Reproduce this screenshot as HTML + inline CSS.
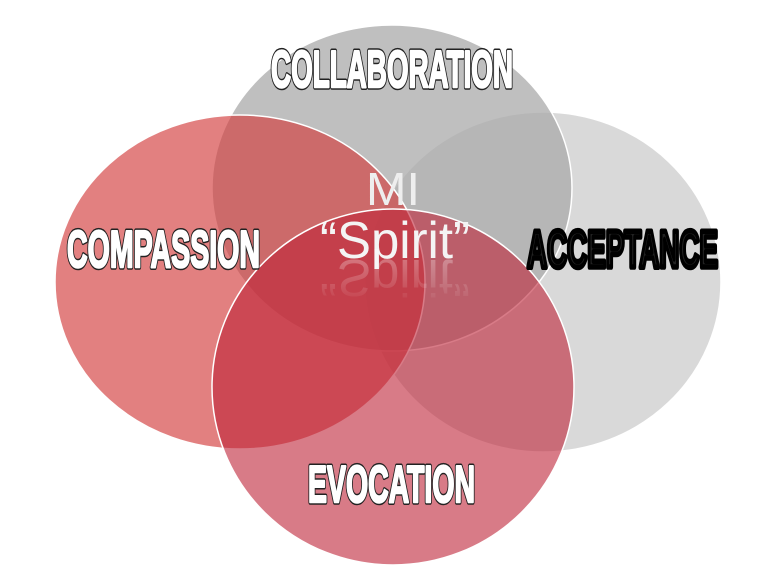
<!DOCTYPE html>
<html><head><meta charset="utf-8"><style>html,body{margin:0;padding:0;background:#fff;width:783px;height:585px;overflow:hidden}
.t{font-family:"Liberation Sans",Arial,sans-serif;font-weight:900;font-size:52px}</style></head>
<body>
<svg width="783" height="585" viewBox="0 0 783 585" xmlns="http://www.w3.org/2000/svg">
<defs>
<linearGradient id="fade" x1="0" y1="0" x2="0" y2="1">
<stop offset="0" stop-color="#fff" stop-opacity="0"/>
<stop offset="1" stop-color="#fff" stop-opacity="0.35"/>
</linearGradient>
</defs>
<ellipse cx="543" cy="282" rx="178" ry="170" fill="#d9d9d9" stroke="#fff" stroke-width="1.5"/>
<ellipse cx="392" cy="188" rx="180" ry="163" fill="rgba(170,170,170,0.75)" stroke="#fff" stroke-width="1.5"/>
<ellipse cx="240" cy="282" rx="185" ry="167" fill="rgba(210,60,60,0.65)" stroke="#fff" stroke-width="1.5"/>
<ellipse cx="393" cy="387" rx="181" ry="178" fill="rgba(190,35,55,0.6)" stroke="#fff" stroke-width="1.5"/>
<g class="t" stroke="#222" stroke-width="5.5" fill="#222" stroke-linejoin="round">
<text x="271" y="87" textLength="242" lengthAdjust="spacingAndGlyphs">COLLABORATION</text>
<text x="67" y="267" textLength="193" lengthAdjust="spacingAndGlyphs">COMPASSION</text>
<text x="527" y="267" textLength="191" lengthAdjust="spacingAndGlyphs" stroke="#000">ACCEPTANCE</text>
<text x="308" y="502" textLength="167" lengthAdjust="spacingAndGlyphs">EVOCATION</text>
</g>
<g class="t" stroke="#fff" stroke-width="2.5" fill="#fff" stroke-linejoin="round">
<text x="271" y="87" textLength="242" lengthAdjust="spacingAndGlyphs">COLLABORATION</text>
<text x="67" y="267" textLength="193" lengthAdjust="spacingAndGlyphs">COMPASSION</text>
<text x="308" y="502" textLength="167" lengthAdjust="spacingAndGlyphs">EVOCATION</text>
</g>
<g font-family="'Liberation Sans',sans-serif">
<text x="366" y="205" font-size="46" textLength="54" lengthAdjust="spacingAndGlyphs" fill="#eee">MI</text>
<text x="320" y="258" font-size="52" textLength="150" lengthAdjust="spacingAndGlyphs" fill="#f4f4f4">“Spirit”</text>
<text x="320" y="262" font-size="52" textLength="150" lengthAdjust="spacingAndGlyphs" fill="url(#fade)" transform="translate(0,522) scale(1,-1)">“Spirit”</text>
</g>
</svg>
</body></html>
